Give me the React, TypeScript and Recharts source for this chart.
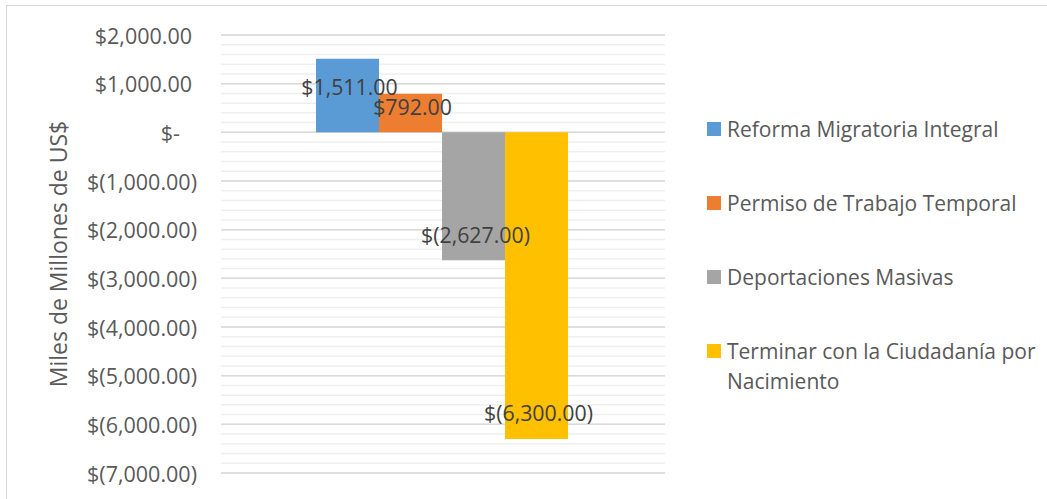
import React from "react";
import {
  BarChart,
  Bar,
  XAxis,
  YAxis,
  CartesianGrid,
  Legend,
  LabelList,
} from "recharts";

const categories = [""];
const seriesNames = [
  "Reforma Migratoria Integral",
  "Permiso de Trabajo Temporal",
  "Deportaciones Masivas",
  "Terminar con la Ciudadanía por Nacimiento",
];
const seriesKeys = ["reforma", "permiso", "deportaciones", "ciudadania"];
const seriesValues = [1511, 792, -2627, -6300];
const seriesColors = ["#5b9bd5", "#ed7d31", "#a5a5a5", "#ffc000"];
// label nudges (px from bar end, inward)
const labelNudge = [28, 13, 26, 26];

const majorTicks = [2000, 1000, 0, -1000, -2000, -3000, -4000, -5000, -6000, -7000];
const minorTicks = [
  2000, 1800, 1600, 1400, 1200, 1000, 800, 600, 400, 200, 0,
  -200, -400, -600, -800, -1000, -1200, -1400, -1600, -1800, -2000,
  -2200, -2400, -2600, -2800, -3000, -3200, -3400, -3600, -3800, -4000,
  -4200, -4400, -4600, -4800, -5000, -5200, -5400, -5600, -5800, -6000,
  -6200, -6400, -6600, -6800, -7000,
];

const data = categories.map((name) => {
  const row: Record<string, string | number> = { name };
  seriesKeys.forEach((k, i) => (row[k] = seriesValues[i]));
  return row;
});

const FONT = "'Open Sans', sans-serif";

function money(v: number) {
  if (v === 0) return "$-";
  const s = Math.abs(v).toLocaleString("en-US", {
    minimumFractionDigits: 2,
    maximumFractionDigits: 2,
  });
  return v < 0 ? `$(${s})` : `$${s}`;
}

function YTick(props: any) {
  const { x, y, payload } = props;
  const v = payload.value as number;
  // accounting format padding
  const pad = v > 0 ? 5 : v === 0 ? 17 : 0;
  return (
    <text
      x={x - pad}
      y={y}
      textAnchor="end"
      dominantBaseline="central"
      fill="#595959"
      fontSize={21.5}
      fontFamily={FONT}
    >
      {money(v)}
    </text>
  );
}

function makeLabel(i: number) {
  return (props: any) => {
    const { x, y, width, height, value } = props;
    const top = Math.min(y, y + height);
    const bottom = Math.max(y, y + height);
    const ly = value >= 0 ? top + labelNudge[i] : bottom - labelNudge[i];
    return (
      <text
        x={x + width / 2 + 2}
        y={ly}
        textAnchor="middle"
        dominantBaseline="central"
        fill="#404040"
        fontSize={21.3}
        fontFamily={FONT}
      >
        {money(value)}
      </text>
    );
  };
}

function LegendBox() {
  return (
    <div style={{ fontFamily: FONT, fontSize: 21, color: "#595959" }}>
      {seriesNames.map((n, i) => (
        <div
          key={n}
          style={{ display: "flex", alignItems: "flex-start", lineHeight: "30px", marginBottom: 44 }}
        >
          <span
            style={{
              width: 14,
              height: 14,
              background: seriesColors[i],
              marginTop: 8,
              marginRight: 6,
              flex: "none",
            }}
          />
          <span style={{ width: 318, textAlign: "left" }}>{n}</span>
        </div>
      ))}
    </div>
  );
}

export default function App() {
  return (
    <div
      style={{
        position: "absolute",
        left: 0,
        top: 0,
        width: 1047,
        height: 499,
        background: "#fff",
        overflow: "hidden",
      }}
    >
      <div
        style={{
          position: "absolute",
          left: 6,
          top: 5,
          width: 1060,
          height: 520,
          borderTop: "1.5px solid #d9d9d9",
          borderLeft: "1.5px solid #d9d9d9",
        }}
      />
      <BarChart
        width={1047}
        height={499}
        data={data}
        margin={{ top: 35, right: 382, bottom: 26, left: 0 }}
        barCategoryGap="21.4%"
        barGap={0}
      >
        <CartesianGrid
          vertical={false}
          horizontalValues={minorTicks}
          stroke="#efefef"
          strokeWidth={1.5}
        />
        <CartesianGrid
          vertical={false}
          horizontalValues={majorTicks}
          stroke="#d9d9d9"
          strokeWidth={1.5}
        />
        <XAxis dataKey="name" hide />
        <YAxis
          width={221}
          domain={[-7000, 2000]}
          ticks={majorTicks}
          interval={0}
          axisLine={false}
          tickLine={false}
          tickSize={0}
          tickMargin={24}
          tick={<YTick />}
          label={{
            content: (p: any) => {
              const vb = p.viewBox;
              const cx = 58;
              const cy = vb.y + vb.height / 2;
              return (
                <text
                  x={cx}
                  y={cy}
                  transform={`rotate(-90 ${cx} ${cy})`}
                  textAnchor="middle"
                  dominantBaseline="central"
                  fill="#595959"
                  fontSize={23}
                  fontFamily={FONT}
                >
                  Miles de Millones de US$
                </text>
              );
            },
          }}
        />
        <Legend
          layout="horizontal"
          verticalAlign="middle"
          align="center"
          content={<LegendBox />}
          wrapperStyle={{ left: 707, top: 114, width: 340 }}
        />
        {seriesKeys.map((k, i) => (
          <Bar
            key={k}
            dataKey={k}
            name={seriesNames[i]}
            fill={seriesColors[i]}
            isAnimationActive={false}
          >
            <LabelList dataKey={k} content={makeLabel(i)} />
          </Bar>
        ))}
      </BarChart>
    </div>
  );
}
